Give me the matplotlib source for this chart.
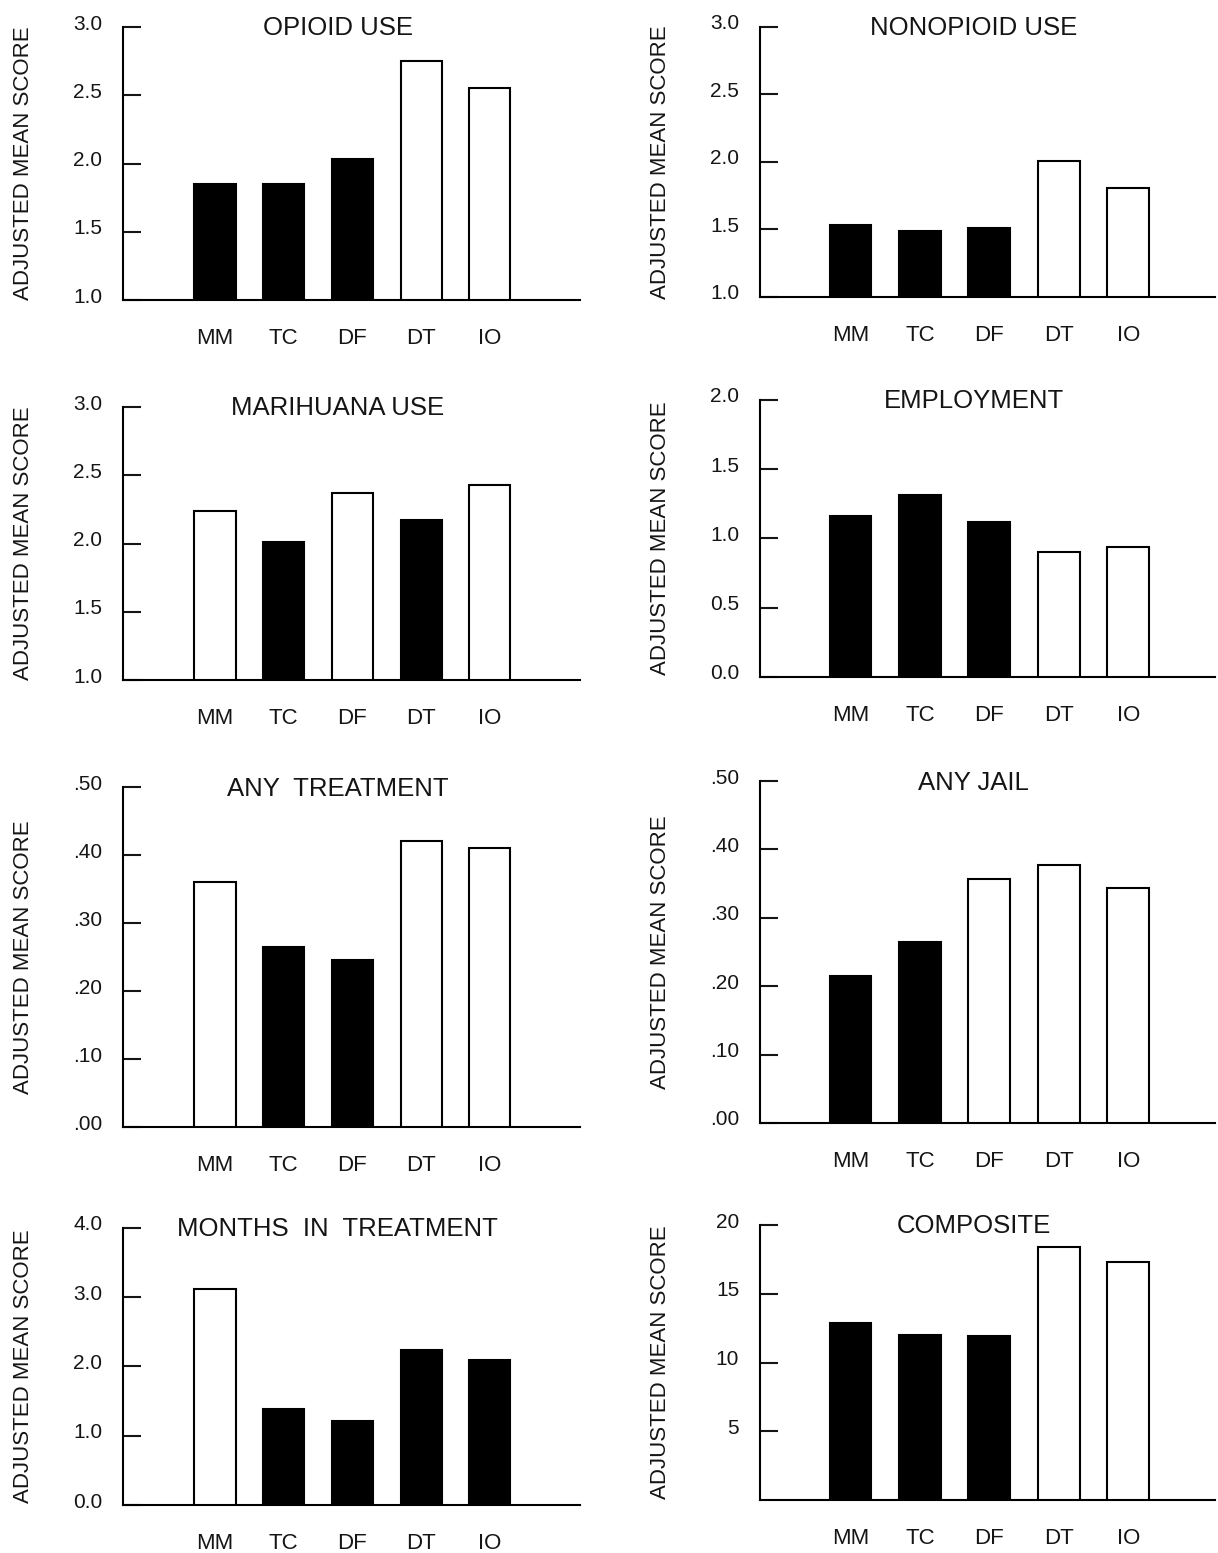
import matplotlib
matplotlib.use('Agg')
import matplotlib.pyplot as plt
from matplotlib.transforms import ScaledTranslation, blended_transform_factory

plt.rcParams['font.family'] = ['Liberation Sans', 'DejaVu Sans']

groups = ['MM', 'TC', 'DF', 'DT', 'IO']

opioid = [1.85, 1.85, 2.03, 2.75, 2.55]
nonopioid = [1.53, 1.49, 1.51, 2.01, 1.81]
marihuana = [2.24, 2.01, 2.37, 2.17, 2.43]
employment = [1.16, 1.31, 1.12, 0.90, 0.94]
any_treatment = [0.36, 0.265, 0.245, 0.42, 0.41]
any_jail = [0.215, 0.265, 0.357, 0.377, 0.343]
months = [3.12, 1.38, 1.22, 2.24, 2.10]
composite = [12.9, 12.0, 11.95, 18.4, 17.3]

# 1 = black bar, 0 = open bar
fill_opioid = [1, 1, 1, 0, 0]
fill_nonopioid = [1, 1, 1, 0, 0]
fill_marihuana = [0, 1, 0, 1, 0]
fill_employment = [1, 1, 1, 0, 0]
fill_treatment = [0, 1, 1, 0, 0]
fill_jail = [1, 1, 0, 0, 0]
fill_months = [0, 1, 1, 1, 1]
fill_composite = [1, 1, 1, 0, 0]

panels = [
    ('OPIOID USE', opioid, fill_opioid, [1.0, 1.5, 2.0, 2.5, 3.0],
     ['1.0', '1.5', '2.0', '2.5', '3.0'], (1.0, 3.0)),
    ('NONOPIOID USE', nonopioid, fill_nonopioid, [1.0, 1.5, 2.0, 2.5, 3.0],
     ['1.0', '1.5', '2.0', '2.5', '3.0'], (1.0, 3.0)),
    ('MARIHUANA USE', marihuana, fill_marihuana, [1.0, 1.5, 2.0, 2.5, 3.0],
     ['1.0', '1.5', '2.0', '2.5', '3.0'], (1.0, 3.0)),
    ('EMPLOYMENT', employment, fill_employment, [0.0, 0.5, 1.0, 1.5, 2.0],
     ['0.0', '0.5', '1.0', '1.5', '2.0'], (0.0, 2.0)),
    ('ANY  TREATMENT', any_treatment, fill_treatment, [0, .1, .2, .3, .4, .5],
     ['.00', '.10', '.20', '.30', '.40', '.50'], (0.0, 0.5)),
    ('ANY JAIL', any_jail, fill_jail, [0, .1, .2, .3, .4, .5],
     ['.00', '.10', '.20', '.30', '.40', '.50'], (0.0, 0.5)),
    ('MONTHS  IN  TREATMENT', months, fill_months, [0, 1, 2, 3, 4],
     ['0.0', '1.0', '2.0', '3.0', '4.0'], (0.0, 4.0)),
    ('COMPOSITE', composite, fill_composite, [5, 10, 15, 20],
     ['5', '10', '15', '20'], (0.0, 20.0)),
]

# axes rectangles in figure fraction (left, bottom, width, height)
rects = [
    (0.101, 0.8068, 0.375, 0.1758),
    (0.624, 0.8088, 0.3736, 0.1739),
    (0.101, 0.5621, 0.375, 0.1758),
    (0.624, 0.5641, 0.3736, 0.1784),
    (0.101, 0.2743, 0.375, 0.2189),
    (0.624, 0.2769, 0.3736, 0.2202),
    (0.101, 0.0309, 0.375, 0.1784),
    (0.624, 0.0341, 0.3736, 0.1771),
]

fig = plt.figure(figsize=(12.18, 15.53), dpi=100)
ink = '#151515'

x = list(range(len(groups)))
for i, (title, vals, fills, ticks, tlabels, ylim) in enumerate(panels):
    ax = fig.add_axes(rects[i])
    colors = ['black' if f else 'white' for f in fills]
    ax.bar(x, [v - ylim[0] for v in vals], bottom=ylim[0], width=0.6,
           color=colors, edgecolor='black', linewidth=1.5, zorder=3)
    ax.set_ylim(*ylim)
    if i % 2 == 0:
        ax.set_xlim(-1.34, 5.31)
    else:
        ax.set_xlim(-1.3, 5.25)
    ax.spines['top'].set_visible(False)
    ax.spines['right'].set_visible(False)
    ax.spines['left'].set_linewidth(1.5)
    ax.spines['bottom'].set_linewidth(1.5)
    ax.set_yticks(ticks)
    ax.set_yticklabels(tlabels)
    ax.tick_params(axis='y', direction='in', length=13, width=1.5,
                   labelsize=15, pad=15, colors=ink)
    # labels sit a little above their tick marks in the original
    for lbl in ax.get_yticklabels():
        lbl.set_transform(lbl.get_transform() +
                          ScaledTranslation(0, 5 / 100, fig.dpi_scale_trans))
    ax.set_xticks(x)
    ax.set_xticklabels(groups)
    ax.tick_params(axis='x', length=0, labelsize=16, pad=20, colors=ink)
    ax.set_ylabel('ADJUSTED MEAN SCORE', fontsize=16, color=ink)
    # same label column for every panel in a column
    lab_x = 34 / 1218 if i % 2 == 0 else 671 / 1218
    ax.yaxis.set_label_coords(
        lab_x, 0.5, transform=blended_transform_factory(fig.transFigure,
                                                        ax.transAxes))
    ax.text(0.47, 0.995, title, transform=ax.transAxes, ha='center',
            va='center', fontsize=18.5, color=ink)

fig.savefig('out.png', dpi=100)
